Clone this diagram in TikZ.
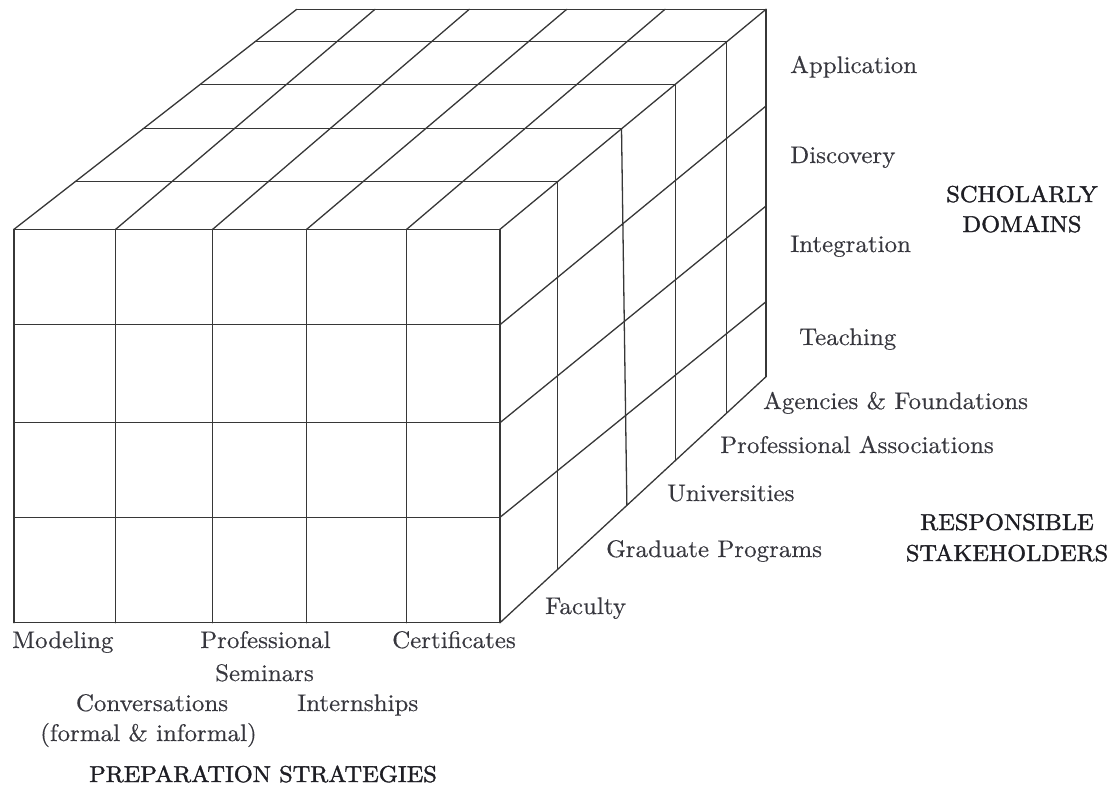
\documentclass[tikz,border=0pt]{standalone}
\usepackage{fontspec}
\setmainfont{lmroman10-regular}[Extension=.otf, FakeStretch=1.04, FakeBold=0.4]
\newfontfamily\headfont{lmroman10-regular}[Extension=.otf, FakeStretch=1.06, FakeBold=1.6]
\usetikzlibrary{calc}
\definecolor{gridc}{RGB}{55,55,55}
\definecolor{txtc}{RGB}{55,55,62}
\definecolor{headc}{RGB}{30,30,36}
\begin{document}
\begin{tikzpicture}[x=1pt,y=-1pt,
  grid/.style={draw=gridc, line width=1.3pt, line cap=round, line join=round},
  lbl/.style={text=txtc, font=\fontsize{24}{30}\selectfont, inner sep=0pt, anchor=base west},
  lblc/.style={lbl, anchor=base},
  captxt/.style={lblc, text=headc, font=\headfont\fontsize{23}{28}\selectfont}]
\useasboundingbox (0,0) rectangle (1114,788);
% corners
\coordinate (FTL) at (14,229.3);
\coordinate (FTR) at (500,229.3);
\coordinate (FBL) at (14,622.7);
\coordinate (FBR) at (500,622.7);
\coordinate (BTL) at (296.7,9.3);
\coordinate (BTR) at (766,9.3);
\coordinate (BBR) at (766,376.7);
% front face
\foreach \x in {14,115.7,212.7,306.7,406.7,500}
  \draw[grid] (\x,229.3) -- (\x,622.7);
\foreach \y in {229.3,324.7,422.7,517.3,622.7}
  \draw[grid] (14,\y) -- (500,\y);
% top face: columns
\foreach \a/\b in {14/296.7,115.7/375,212.7/469.3,306.7/566.7,406.7/665,500/766}
  \draw[grid] (\a,229.3) -- (\b,9.3);
% top face: layers
\foreach \t in {0.2164,0.4568,0.6595,0.8527,1}
  \draw[grid] ($(FTL)!\t!(BTL)$) -- ($(FTR)!\t!(BTR)$);
% right face: layer verticals
\foreach \t/\u in {0.2164/0.2164,0.4568/0.477,0.6595/0.6595,0.8527/0.8527,1/1}
  \draw[grid] ($(FTR)!\t!(BTR)$) -- ($(FBR)!\u!(BBR)$);
% right face: rows
\foreach \a/\b in {324.7/106,422.7/206,517.3/301.7,622.7/376.7}
  \draw[grid] (500,\a) -- (766,\b);
% scholarly domains
\node[lbl] (app) at (790,73) {Application};
\node[lbl] (dis) at (790,163) {Discovery};
\node[lbl] (int) at (790,252) {Integration};
\node[lbl] (tea) at (799,345) {Teaching};
\node[captxt] (sd1) at (1022,202) {SCHOLARLY};
\node[captxt] (sd2) at (1022,232) {DOMAINS};
% stakeholders
\node[lbl] (age) at (763,409) {Agencies \& Foundations};
\node[lbl] (pro) at (720,453) {Professional Associations};
\node[lbl] (uni) at (667,501) {Universities};
\node[lbl] (gra) at (606,557) {Graduate Programs};
\node[lbl] (fac) at (545,614) {Faculty};
\node[captxt] (rs1) at (1007,530) {RESPONSIBLE};
\node[captxt] (rs2) at (1007,561) {STAKEHOLDERS};
% strategies
\node[lbl] (mod) at (12,648) {Modeling};
\node[lbl] (prs) at (200,648) {Professional};
\node[lblc] (sem) at (264.5,681) {Seminars};
\node[lbl] (cer) at (392,648) {Certificates};
\node[lblc] (con) at (152,711) {Conversations};
\node[lblc] (fml) at (148.5,741) {(formal \& informal)};
\node[lbl] (ins) at (297,711) {Internships};
\node[captxt] (ps) at (263,782) {PREPARATION STRATEGIES};
\end{tikzpicture}
\end{document}
